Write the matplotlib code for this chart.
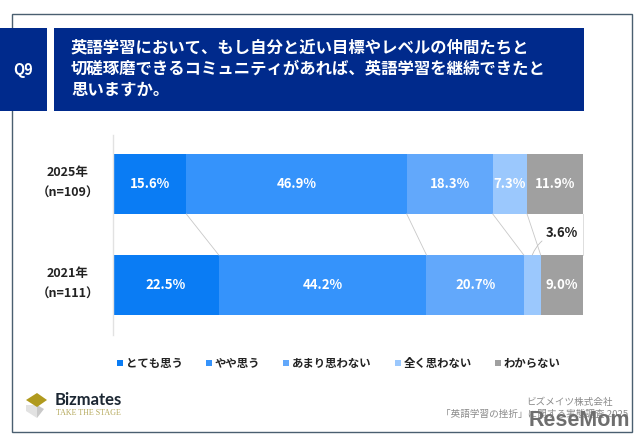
import numpy as np
import matplotlib
matplotlib.use('Agg')
import matplotlib.pyplot as plt
from matplotlib.patches import Rectangle, Polygon

plt.rcParams['font.family'] = ['Noto Sans CJK JP', 'DejaVu Sans']

W, H = 640, 443

years = ['2025年\n（n=109）', '2021年\n（n=111）']
categories = ['とても思う', 'やや思う', 'あまり思わない', '全く思わない', 'わからない']
values_2025 = [15.6, 46.9, 18.3, 7.3, 11.9]
values_2021 = [22.5, 44.2, 20.7, 3.6, 9.0]
colors = ['#0a7cf4', '#3593fb', '#62a8fb', '#9bc8fd', '#a0a0a0']
question = ('英語学習において、もし自分と近い目標やレベルの仲間たちと\n'
            '切磋琢磨できるコミュニティがあれば、英語学習を継続できたと\n'
            '思いますか。')


def px_axes(x0, y0, x1, y1):
    return [x0 / W, 1 - y1 / H, (x1 - x0) / W, (y1 - y0) / H]


fig = plt.figure(figsize=(W / 100, H / 100), dpi=100, facecolor='white')

# overlay in pixel coords for the page furniture
bg = fig.add_axes([0, 0, 1, 1], zorder=0)
bg.set_xlim(0, W)
bg.set_ylim(H, 0)
bg.axis('off')

bg.add_patch(Rectangle((11.5, 14), 620.5, 417.5, fc='white', ec='#4a5f70', lw=1))
bg.add_patch(Rectangle((0, 27.5), 47, 83, fc='#002a8c', ec='none'))
bg.add_patch(Rectangle((54, 27.5), 530, 83, fc='#002a8c', ec='none'))
bg.text(23.5, 69.5, 'Q9', color='white', fontsize=10.5, fontweight='bold', ha='center', va='center')
bg.text(71, 68.5, question, color='white', fontsize=11.8, fontweight='bold', ha='left', va='center', linespacing=1.24)

# bars
ax = fig.add_axes(px_axes(113, 135, 583, 335), zorder=1)
ax.patch.set_alpha(0)
ax.set_xlim(0, 100)
ax.set_ylim((335 - 184) / 101, (135 - 184) / 101)
for s in ['top', 'right', 'bottom']:
    ax.spines[s].set_visible(False)
ax.spines['left'].set_color('#e2e2e2')
ax.spines['left'].set_linewidth(1)
ax.set_xticks([])
ax.set_yticks([])

# row labels sit a bit above the bar centres
for i, label in enumerate(years):
    ax.text(-0.096, i - 0.01, label, transform=ax.get_yaxis_transform(), fontsize=9, fontweight='bold',
            color='#222222', linespacing=1.75, ha='center', va='center')

bar_h = 60 / 101
rows = [values_2025, values_2021]
for i, row in enumerate(rows):
    left = 0
    for j, v in enumerate(row):
        ax.barh(i, v, left=left, height=bar_h, color=colors[j], linewidth=0)
        if not (i == 1 and j == 3):
            ax.text(left + v / 2, i, '%.1f%%' % v, color='white', fontsize=9.5, fontweight='bold',
                    ha='center', va='center')
        left += v

# connectors between the two bars
cum_2025 = np.cumsum(values_2025)[:-1]
cum_2021 = np.cumsum(values_2021)[:-1]
for a, b in zip(cum_2025, cum_2021):
    ax.plot([a, b], [bar_h / 2, 1 - bar_h / 2], color='#c8c8c8', lw=0.6)

# right edge and leader for the small 2021 value
ax.plot([100, 100], [bar_h / 2, 1 - bar_h / 2], color='#dddddd', lw=0.7, clip_on=False)
ax.annotate('%.1f%%' % values_2021[3], xy=(cum_2021[2] + values_2021[3] / 2, 1 - bar_h / 2),
            xytext=(92.1, 0.485), color='#222222', fontsize=9.5, fontweight='bold', ha='left', va='center',
            arrowprops=dict(arrowstyle='-', color='#c0c0c0', lw=0.6, shrinkA=1, shrinkB=0,
                            connectionstyle='arc3,rad=0.3'))

# legend
square_x = [116.5, 205.5, 282.5, 394.5, 494.5]
for c, label, x in zip(colors, categories, square_x):
    bg.add_patch(Rectangle((x, 360), 6, 6, fc=c, ec='none'))
    bg.text(x + 9, 363, label, fontsize=8.2, fontweight='bold', color='#222222', ha='left', va='center')

# logo
bg.add_patch(Polygon([[26, 405], [37, 405], [37, 418], [26, 411]], fc='#e2e2e2', ec='none'))
bg.add_patch(Polygon([[37, 405], [44, 409], [37, 418]], fc='#c9c9c9', ec='none'))
bg.add_patch(Polygon([[26, 400], [37, 393], [47, 400], [37, 407]], fc='#b09a1e', ec='none'))
bg.text(55, 400, 'Bizmates', fontsize=12, fontweight='bold', color='#1c2733', ha='left', va='center',
        family=['Lato', 'DejaVu Sans'])
bg.text(56, 413, 'TAKE THE STAGE', fontsize=5.8, color='#b5a95c', ha='left', va='center',
        family=['Liberation Serif', 'DejaVu Sans'])

# source, with the watermark over it
bg.text(613, 402, 'ビズメイツ株式会社', fontsize=6.9, color='#8a8a8a', ha='right', va='center')
bg.text(628, 414, '「英語学習の挫折」に関する実態調査 2025', fontsize=6.9, color='#8a8a8a', ha='right', va='center')
bg.text(630, 421, 'ReseMom', fontsize=15.5, fontweight='bold', color='#6e6e6e', ha='right', va='center',
        family=['Liberation Sans', 'DejaVu Sans'])

fig.savefig('out.png', dpi=100)
